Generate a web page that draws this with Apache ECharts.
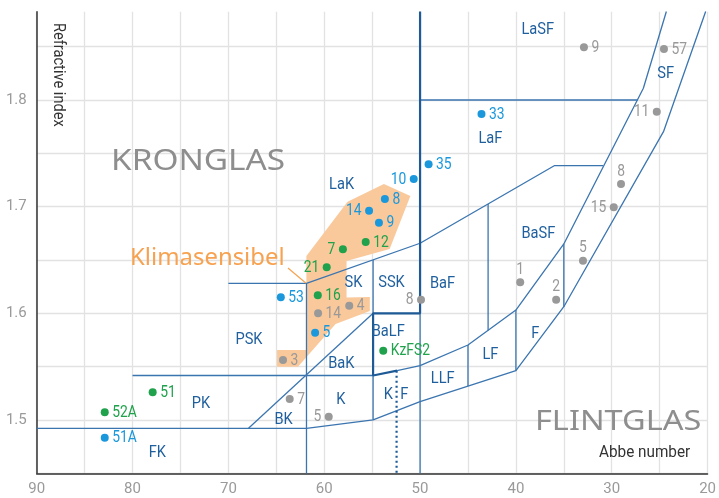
<!DOCTYPE html>
<html><head><meta charset="utf-8">
<script src="https://cdn.jsdelivr.net/npm/echarts@6/dist/echarts.min.js"></script>
<style>html,body{margin:0;padding:0;background:#fff}#c{width:719px;height:498px}</style>
</head><body><div id="c"></div>
<script>
// ---- data ----
const xTicks = [90, 80, 70, 60, 50, 40, 30, 20];
const yTicks = [1.5, 1.6, 1.7, 1.8];
// [label, Abbe number, refractive index]
const greenGlasses = [['52A',82.9,1.5072],['51',77.9,1.526],['21',59.74,1.6432],['7',58.05,1.66],['12',55.67,1.6669],['16',60.67,1.6169],['KzFS2',53.84,1.565]];
const blueGlasses = [['51A',82.9,1.4834],['53',64.53,1.615],['5',60.95,1.5818],['14',55.32,1.6962],['9',54.29,1.685],['8',53.67,1.7072],['10',50.66,1.7259],['35',49.11,1.7397],['33',43.59,1.7869]];
const grayGlasses = [['9',32.9,1.8494],['57',24.55,1.8478],['11',25.3,1.789],['8',29.03,1.7212],['15',29.79,1.6994],['5',33.0,1.6493],['1',39.55,1.6291],['2',35.8,1.6128],['8',49.9,1.6128],['4',57.39,1.6072],['14',60.64,1.6],['3',64.3,1.5562],['7',63.6,1.5197],['5',59.53,1.5031]];
// label placement for each glass
const greenSides = ['right','right','left','left','right','right','right'];
const blueSides = ['right','right','right','left','right','right','left','right','right'];
const graySides = ['right','right','left','top','left','top','top','top','left','right','right','right','right','left'];
// glass family region labels [name, Abbe, nd]
const regionNames = [['LaSF',37.72,1.8663],['SF',24.37,1.825],['LaF',42.66,1.7634],['LaK',58.19,1.7203],['BaSF',37.66,1.6744],['SK',56.95,1.6282],['SSK',52.98,1.6282],['BaF',47.66,1.6275],['PSK',67.85,1.575],['BaLF',53.32,1.5828],['BaK',58.22,1.5525],['LF',42.66,1.5609],['F',37.97,1.5813],['LLF',47.63,1.5384],['PK',72.86,1.515],['K',58.26,1.5187],['K  F',52.5,1.5234],['BK',64.24,1.5005],['FK',77.41,1.4688]];
// region boundaries (Abbe, nd)
const boundaryThin = [
  [[90,1.4922],[61.85,1.4922],[54.9,1.5],[50,1.5172],[40,1.5462],[35,1.6062],[24.6,1.7703],[20.2,1.883]],
  [[80,1.5417],[54.9,1.5417]],
  [[52.4,1.5462],[50,1.5509],[45,1.5703],[40,1.6031],[35,1.665],[26.7,1.811],[24.3,1.883]],
  [[70,1.628],[61.85,1.628],[50,1.6657],[36,1.7384],[30.9,1.7384]],
  [[61.85,1.628],[61.85,1.45]],
  [[67.9,1.4922],[54.9,1.6]],
  [[54.9,1.65],[54.9,1.6]],
  [[54.9,1.5417],[54.9,1.5]],
  [[50,1.6],[50,1.45]],
  [[50,1.8],[27.3,1.8]],
  [[42.9,1.7025],[42.9,1.5839]],
  [[45,1.5703],[45,1.5319]],
  [[40,1.6031],[40,1.5462]],
  [[35,1.665],[35,1.6062]]
];
const boundaryThick = [[50,1.883],[50,1.6],[54.9,1.6],[54.9,1.5417],[52.4,1.5462]];
const boundaryDotted = [[52.45,1.5462],[52.45,1.45]];
// climate-sensitive area
const klimaArea = [[61.86,1.6537],[57.57,1.7047],[53.77,1.7212],[51.01,1.71],[53.17,1.6603],[57.67,1.6491],[57.67,1.6148],[55.24,1.6153],[55.24,1.6022],[58.81,1.59],[62.74,1.55],[64.92,1.55],[64.92,1.5656],[61.86,1.5656]];
const klimaLeader = [[63.78,1.6425],[61.92,1.6284]];

// ---- chart ----
const FONT = "Roboto, sans-serif";
const C_LINE = '#3b75b0', C_THICK = '#1d5a96', C_REG = '#1f5f9e';
const chart = echarts.init(document.getElementById('c'), null, {renderer:'canvas'});

function dotSeries(arr, color) {
  return {type:'scatter', symbolSize:8, z:10, animation:false, silent:true,
    itemStyle:{color:color, opacity:1}, data: arr.map(g=>[g[1],g[2]])};
}
function labelSeries(arr, sides, color) {
  return {type:'custom', z:11, silent:true, animation:false,
    data: arr.map(g=>[g[1],g[2]]),
    renderItem:(p,api)=>{
      const c = api.coord([api.value(0), api.value(1)]);
      const side = sides[p.dataIndex];
      let x = c[0], y = c[1] + 0.5, align = 'left', va = 'middle';
      if (side === 'right') { x += 7.5; }
      else if (side === 'left') { x -= 7.5; align = 'right'; }
      else { y = c[1] - 4; align = 'center'; va = 'bottom'; }
      return {type:'text', x:x, y:y, scaleX:0.84,
        style:{text:arr[p.dataIndex][0], fill:color, fontFamily:FONT, fontSize:16.5, textAlign:align, textVerticalAlign:va}};
    }};
}
function lineS(pts, color, width, type, z) {
  return {type:'line', data:pts, symbol:'none', silent:true, animation:false, z:z||5,
    lineStyle:{color:color, width:width, type:type||'solid'}};
}
const series = [];
series.push({
  type:'custom', z:2, silent:true, animation:false, data:[[60,1.6]],
  renderItem:(p,api)=>({type:'polygon', shape:{points:klimaArea.map(q=>api.coord(q))}, style:{fill:'#f9c99c'}})
});
boundaryThin.forEach(b=>series.push(lineS(b, C_LINE, 1.3)));
series.push(lineS(boundaryThick, C_THICK, 2.2, 'solid', 6));
series.push(lineS(boundaryDotted, C_THICK, 2.2, [2,3], 6));
series.push(lineS(klimaLeader, '#f7a250', 1.2, 'solid', 6));
series.push({
  type:'custom', z:8, silent:true, animation:false,
  data: regionNames.map(r=>[r[1],r[2]]),
  renderItem:(p,api)=>{ const c = api.coord([api.value(0),api.value(1)]);
    return {type:'text', x:c[0], y:c[1], scaleX:0.86, style:{text:regionNames[p.dataIndex][0], fill:C_REG,
      fontFamily:FONT, fontSize:17, textAlign:'center', textVerticalAlign:'middle'}}; }
});
series.push(dotSeries(grayGlasses, '#999999'));
series.push(dotSeries(blueGlasses, '#1b98dc'));
series.push(dotSeries(greenGlasses, '#1fa24b'));
series.push(labelSeries(grayGlasses, graySides, '#999999'));
series.push(labelSeries(blueGlasses, blueSides, '#1b98dc'));
series.push(labelSeries(greenGlasses, greenSides, '#1fa24b'));

chart.setOption({
  animation:false,
  grid:{left:36.7, right:5.7, top:11.7, bottom:24.7},
  xAxis:{type:'value', inverse:true, min:20, max:90, interval:5,
    axisLine:{show:true, lineStyle:{color:'#333', width:1.5}}, axisTick:{show:false},
    axisLabel:{color:'#9a9a9a', fontFamily:FONT, fontSize:15, margin:8,
      formatter:v=> xTicks.indexOf(v)>=0 ? String(v) : ''},
    splitLine:{show:true, lineStyle:{color:'#e2e2e2', width:1.3}}},
  yAxis:{type:'value', min:1.45, max:1.8828, interval:0.05,
    axisLine:{show:true, lineStyle:{color:'#333', width:1.5}}, axisTick:{show:false},
    axisLabel:{color:'#9a9a9a', fontFamily:FONT, fontSize:15, margin:10, showMaxLabel:false,
      formatter:v=>{ const r=Math.round(v*10)/10; return (Math.abs(v-r)<1e-6 && yTicks.indexOf(r)>=0) ? r.toFixed(1) : ''; }},
    splitLine:{show:true, showMaxLine:false, lineStyle:{color:'#e2e2e2', width:1.3}}},
  graphic:[
    {type:'text', x:111, y:162, scaleX:1.15, z:3, style:{text:'KRONGLAS', fill:'#8e8e8e', fontFamily:"'Noto Sans'", fontSize:29, textVerticalAlign:'middle'}},
    {type:'text', x:535, y:422, scaleX:1.16, z:3, style:{text:'FLINTGLAS', fill:'#8e8e8e', fontFamily:"'Noto Sans'", fontSize:28, textVerticalAlign:'middle'}},
    {type:'text', x:130, y:258, scaleX:1.04, z:3, style:{text:'Klimasensibel', fill:'#f7a250', fontFamily:"'Noto Sans'", fontSize:23, textVerticalAlign:'middle'}},
    {type:'text', x:58.5, y:23, rotation:-Math.PI/2, scaleX:0.86, z:3, style:{text:'Refractive index', fill:'#333', fontFamily:FONT, fontSize:17, textAlign:'left', textVerticalAlign:'middle'}},
    {type:'text', x:599, y:453, scaleX:0.9, z:3, style:{text:'Abbe number', fill:'#333', fontFamily:FONT, fontSize:17, textAlign:'left', textVerticalAlign:'middle'}}
  ],
  series: series
});
</script></body></html>
